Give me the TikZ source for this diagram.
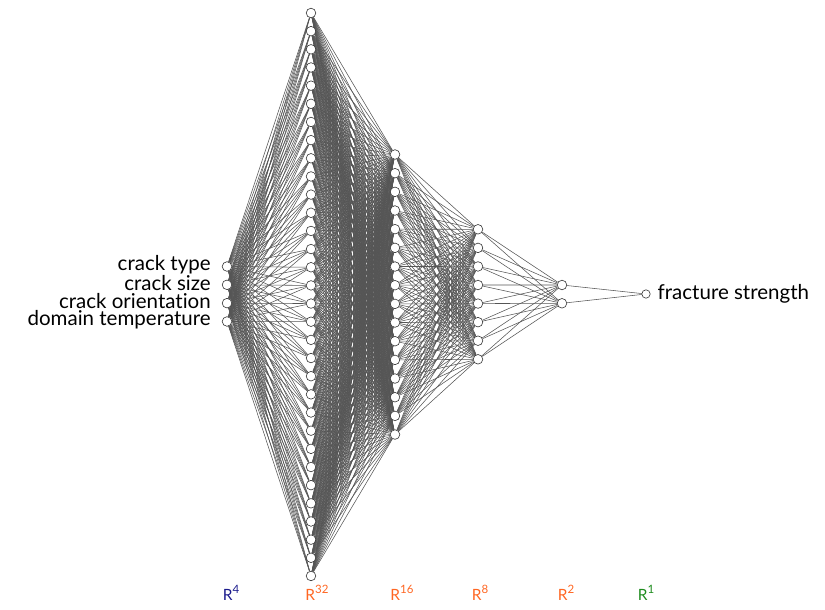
\documentclass[tikz,border=0pt]{standalone}
\usepackage{fontspec}
\setmainfont{Lato}[Ligatures=NoCommon]
\usetikzlibrary{backgrounds}
\definecolor{edgegray}{HTML}{555555}
\definecolor{rblue}{HTML}{1A1A8C}
\definecolor{rorange}{HTML}{FF6622}
\definecolor{rgreen}{HTML}{1E8C1E}
\newcommand{\spc}[1]{R\raisebox{0.42em}{\fontsize{11.5}{11.5}\selectfont #1}}
\begin{document}
\begin{tikzpicture}[x=1pt,y=-1pt,
  neuron/.style={circle,draw=black!80,fill=white,line width=0.6pt,minimum size=9.6pt,inner sep=0pt},
  outneuron/.style={neuron,minimum size=8.4pt},
  conn/.style={draw=edgegray,line width=0.55pt},
  featlabel/.style={anchor=east,font=\fontsize{20.5}{20.5}\selectfont,inner sep=0pt},
  spacelabel/.style={anchor=base,font=\fontsize{15.5}{15.5}\selectfont,inner sep=0pt}]
\useasboundingbox (0,0) rectangle (825,610);
% layers: index/x/count/ytop/spacing
\foreach \l/\x/\n/\yt/\sp in {1/227/4/266.5/18.33, 2/311/32/13/18.16, 3/395/16/154.5/18.67, 4/478/8/229.3/18.57, 5/562/2/285/18.3}{
  \foreach \i in {1,...,\n}{
    \node[neuron] (L\l-\i) at (\x,{\yt+(\i-1)*\sp}) {};
  }
}
\node[outneuron] (L6-1) at (646,294) {};
% connectors
\begin{pgfonlayer}{background}
\foreach \a/\na/\b/\nb in {1/4/2/32, 2/32/3/16, 3/16/4/8, 4/8/5/2, 5/2/6/1}{
  \foreach \i in {1,...,\na}{
    \foreach \j in {1,...,\nb}{
      \draw[conn] (L\a-\i) -- (L\b-\j);
    }
  }
}
\end{pgfonlayer}
% input / output labels
\node[featlabel] (t1) at ([xshift=-11pt,yshift=2pt]L1-1.west) {crack type};
\node[featlabel] (t2) at ([xshift=-11pt,yshift=2pt]L1-2.west) {crack size};
\node[featlabel] (t3) at ([xshift=-11pt,yshift=2pt]L1-3.west) {crack orientation};
\node[featlabel] (t4) at ([xshift=-11pt,yshift=2pt]L1-4.west) {domain temperature};
\node[featlabel,anchor=west] (tout) at ([xshift=7pt]L6-1.east) {fracture strength};
% space labels
\node[spacelabel,text=rblue] (s1) at (231,600) {\spc{4}};
\node[spacelabel,text=rorange] (s2) at (317,600) {\spc{32}};
\node[spacelabel,text=rorange] (s3) at (402,600) {\spc{16}};
\node[spacelabel,text=rorange] (s4) at (480,600) {\spc{8}};
\node[spacelabel,text=rorange] (s5) at (566,600) {\spc{2}};
\node[spacelabel,text=rgreen] (s6) at (646,600) {\spc{1}};
\end{tikzpicture}
\end{document}
